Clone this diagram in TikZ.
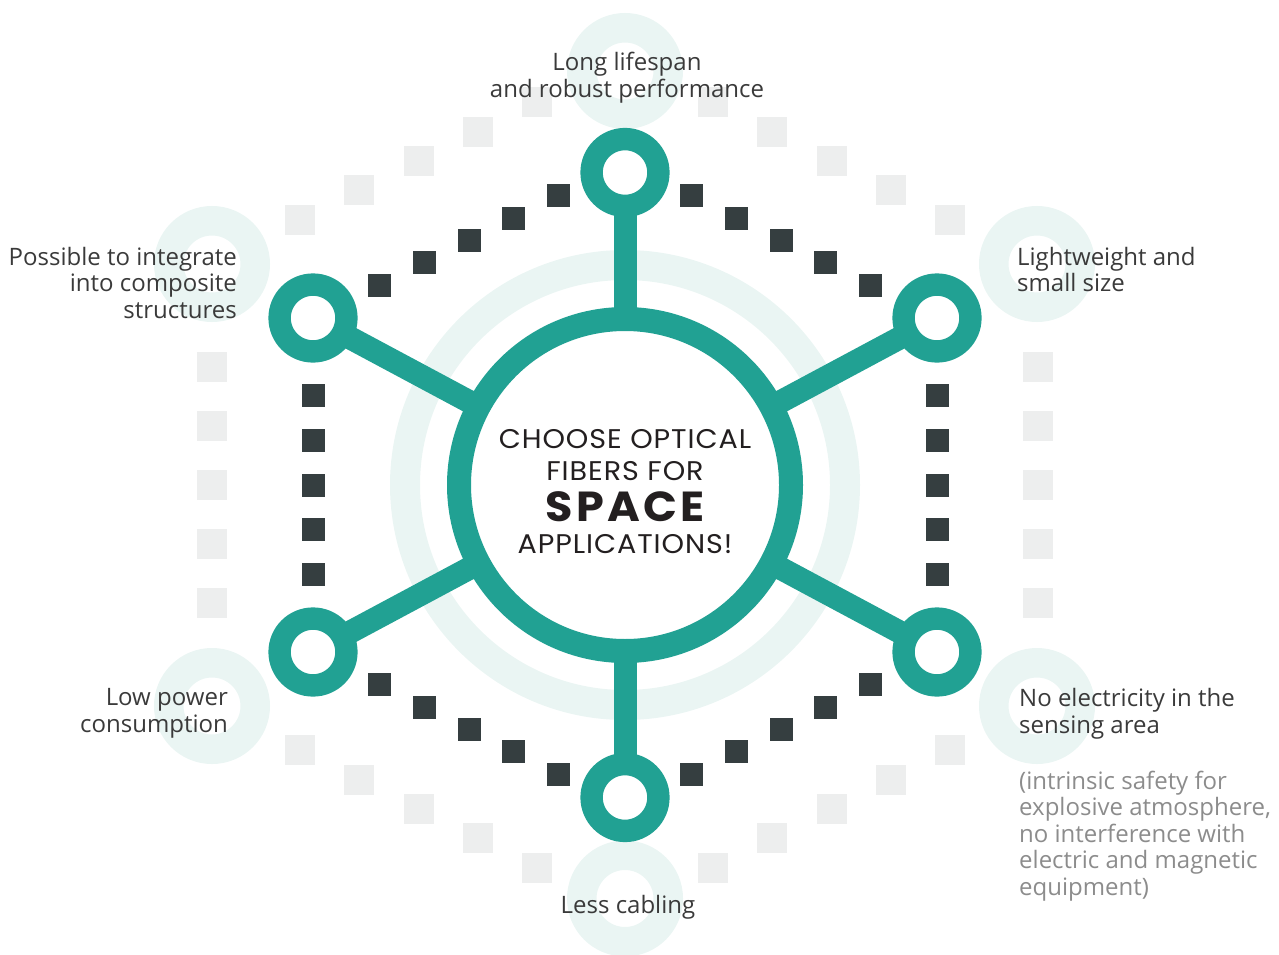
\documentclass[tikz,border=0pt]{standalone}
\usepackage{fontspec}
\setmainfont{Open Sans}
\newfontfamily\sloganfont{Poppins}[FakeStretch=1.06,LetterSpace=3.4]
\usetikzlibrary{calc,backgrounds}

\definecolor{fibreteal}{HTML}{21A193}
\definecolor{darksquare}{HTML}{353E40}
\definecolor{lightsquare}{HTML}{EDEEEE}
\definecolor{halo}{HTML}{EAF5F3}
\definecolor{textdark}{HTML}{3A3A3A}
\definecolor{textgrey}{HTML}{8C8C8C}
\definecolor{sloganink}{HTML}{231F20}

\tikzset{
  satellite/.style={circle,draw=fibreteal,fill=white,line width=22.4pt,minimum size=66.8pt,inner sep=0pt},
  hub/.style={circle,draw=fibreteal,fill=white,line width=24pt,minimum size=332pt,inner sep=0pt},
  spoke/.style={fibreteal,line width=23pt},
  halo ring/.style={halo,line width=29.5pt},
  benefit/.style={font=\fontsize{24}{26.5}\selectfont,text=textdark,inner sep=0pt},
}

\begin{document}
\begin{tikzpicture}[x=1pt,y=-1pt]
  \useasboundingbox (0,0) rectangle (1279,955);

  % hub and the six satellites
  \node[hub] (hub) at (625,485) {};
  \node[satellite] (satN) at (625,172.5) {};
  \node[satellite] (satNE) at (937,318) {};
  \node[satellite] (satSE) at (937,652) {};
  \node[satellite] (satS) at (625,797.5) {};
  \node[satellite] (satSW) at (313,652) {};
  \node[satellite] (satNW) at (313,318) {};

  % halos behind the texts
  \coordinate (haloN) at (625,71);
  \coordinate (haloNE) at (1037,264);
  \coordinate (haloSE) at (1037,706);
  \coordinate (haloS) at (625,898.5);
  \coordinate (haloSW) at (212,706);
  \coordinate (haloNW) at (212,264);

  % corners of the two square hexagons
  \coordinate (dkN) at (625,162.6);
  \coordinate (dkNE) at (937,318.4);
  \coordinate (dkSE) at (937,651.6);
  \coordinate (dkS) at (625,807.4);
  \coordinate (dkSW) at (313,651.6);
  \coordinate (dkNW) at (313,318.4);
  \coordinate (ltN) at (625,58);
  \coordinate (ltNE) at (1038,264);
  \coordinate (ltSE) at (1038,706);
  \coordinate (ltS) at (625,912);
  \coordinate (ltSW) at (212,706);
  \coordinate (ltNW) at (212,264);

  \begin{scope}[on background layer]
    \draw[halo,line width=30pt] (hub.center) circle[radius=220];
    \foreach \h in {haloN,haloNE,haloSE,haloS,haloSW,haloNW}
      \draw[halo ring] (\h) circle[radius=43.25];

    % outer hexagon of light squares
    \foreach \a/\b/\s in {ltN/ltNW/0.1429,ltN/ltNE/0.1429,ltNW/ltSW/0.1335,
                          ltNE/ltSE/0.1335,ltSW/ltS/0.1429,ltSE/ltS/0.1429}
      \foreach \k in {-2,...,2}
        \fill[lightsquare] ($(\a)!0.5+\k*\s!(\b)$) ++(-15,-15) rectangle ++(30,30);

    % inner hexagon of dark squares
    \foreach \a/\b/\s in {dkN/dkNW/0.1433,dkN/dkNE/0.1433,dkNW/dkSW/0.1336,
                          dkNE/dkSE/0.1336,dkSW/dkS/0.1433,dkSE/dkS/0.1433}
      \foreach \k in {-2,...,2}
        \fill[darksquare] ($(\a)!0.5+\k*\s!(\b)$) ++(-11.5,-11.5) rectangle ++(23,23);

    \foreach \s in {satN,satNE,satSE,satS,satSW,satNW}
      \draw[spoke] (hub.center) -- (\s.center);
  \end{scope}

  \node[inner sep=0pt,align=center,text=sloganink,font=\sloganfont\fontsize{27}{31.7}\selectfont]
    (slogan) at (625,491.5) {CHOOSE OPTICAL\\FIBERS FOR\\[10pt]{\fontsize{42}{42}\selectfont\bfseries\addfontfeature{LetterSpace=8}SPACE}\\APPLICATIONS!};

  \node[benefit,anchor=north,align=center] (lifespan) at (627,52) {Long lifespan\\and robust performance};
  \node[benefit,anchor=north east,align=right] (composite) at (237,246.8) {Possible to integrate\\into composite\\structures};
  \node[benefit,anchor=north west,align=left] (lightweight) at (1017,247) {Lightweight and\\small size};
  \node[benefit,anchor=north east,align=right] (power) at (228,688.5) {Low power\\consumption};
  \node[benefit,anchor=north west,align=left] (electricity) at (1019,688.5) {No electricity in the\\sensing area};
  \node[benefit,anchor=north west,align=left,text=textgrey] (safety) at (1019,770.8)
    {(intrinsic safety for\\explosive atmosphere,\\no interference with\\electric and magnetic\\equipment)};
  \node[benefit,anchor=north] (cabling) at (628,895) {Less cabling};
\end{tikzpicture}
\end{document}
